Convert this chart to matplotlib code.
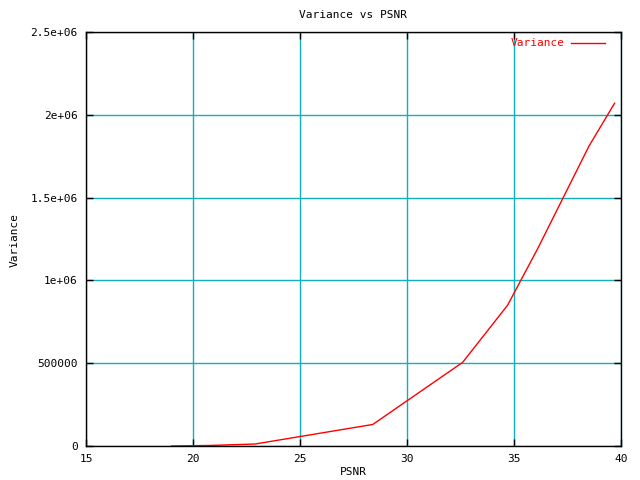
import numpy as np
import matplotlib
matplotlib.use("Agg")
import matplotlib.pyplot as plt

# values (gnuplot style plot)
psnr = [19.0, 20.7, 22.9, 28.4, 32.6, 34.7, 36.1, 38.5, 39.7]
variance = [0, 3000, 12000, 130000, 505000, 850000, 1190000, 1810000, 2070000]

x_ticks = [15, 20, 25, 30, 35, 40]
y_ticks = [0, 500000, 1000000, 1500000, 2000000, 2500000]
y_tick_labels = ["0", "500000", "1e+06", "1.5e+06", "2e+06", "2.5e+06"]

plt.rcParams['font.family'] = 'DejaVu Sans Mono'
plt.rcParams['font.size'] = 8

fig = plt.figure(figsize=(6.4, 4.8), dpi=100)
ax = fig.add_axes([86 / 640, 1 - 446 / 480, (621 - 86) / 640, (446 - 32) / 480])

ax.plot(psnr, variance, color='red', linewidth=1, label='Variance')

ax.set_xlim(15, 40)
ax.set_ylim(0, 2500000)
ax.set_xticks(x_ticks)
ax.set_yticks(y_ticks)
ax.set_yticklabels(y_tick_labels)
ax.tick_params(direction='in', length=5, width=1, top=True, right=True, pad=6)
ax.grid(True, color='#10b0c0', linewidth=1)
ax.set_axisbelow(True)
for s in ax.spines.values():
    s.set_linewidth(1)

# title and axis labels placed like gnuplot does
fig.text(353 / 640, 1 - 15 / 480, "Variance vs PSNR", ha='center', va='center')
fig.text(353 / 640, 1 - 472 / 480, "PSNR", ha='center', va='center')
fig.text(15 / 640, 1 - 240 / 480, "Variance", ha='center', va='center', rotation=90)

leg = ax.legend(loc='upper right', frameon=False, markerfirst=False,
                handlelength=3, handletextpad=0.6, borderaxespad=0,
                bbox_to_anchor=(1 - 12 / 535, 1 - 2 / 414))
for t in leg.get_texts():
    t.set_color('red')

fig.savefig("out.png", dpi=100)
